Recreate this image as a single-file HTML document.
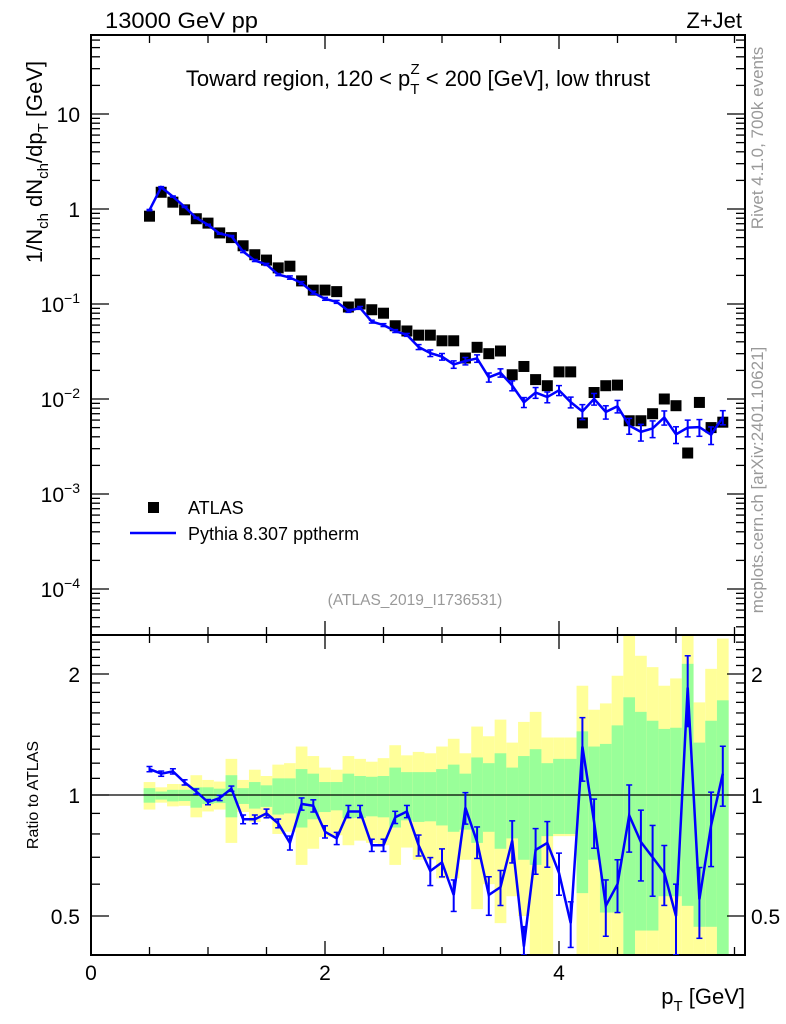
<!DOCTYPE html>
<html><head><meta charset="utf-8"><style>
html,body{margin:0;padding:0;background:#fff;}
svg{display:block;font-family:"Liberation Sans",sans-serif;}
</style></head><body>
<svg id="chart" width="786" height="1024" viewBox="0 0 786 1024"></svg>
<script>
const pt = [0.5,0.6,0.7,0.8,0.9,1.0,1.1,1.2,1.3,1.4,1.5,1.6,1.7,1.8,1.9,2.0,2.1,2.2,2.3,2.4,2.5,2.6,2.7,2.8,2.9,3.0,3.1,3.2,3.3,3.4,3.5,3.6,3.7,3.8,3.9,4.0,4.1,4.2,4.3,4.4,4.5,4.6,4.7,4.8,4.9,5.0,5.1,5.2,5.3,5.4];
const atlas = [0.84,1.5,1.18,0.98,0.79,0.71,0.56,0.5,0.41,0.33,0.29,0.24,0.25,0.175,0.14,0.14,0.135,0.093,0.1,0.087,0.08,0.059,0.052,0.047,0.047,0.041,0.041,0.027,0.035,0.030,0.032,0.018,0.022,0.016,0.0138,0.0193,0.0193,0.0056,0.0117,0.0138,0.014,0.0059,0.0059,0.0070,0.0100,0.0085,0.0027,0.0092,0.0050,0.0057];
const ratio = [1.16,1.13,1.145,1.075,1.02,0.96,0.983,1.037,0.87,0.87,0.90,0.85,0.76,0.95,0.94,0.81,0.78,0.91,0.91,0.75,0.75,0.88,0.91,0.75,0.647,0.68,0.564,0.93,0.764,0.564,0.59,0.77,0.42,0.73,0.76,0.64,0.48,1.32,0.857,0.53,0.60,0.89,0.764,0.70,0.64,0.50,1.85,0.55,0.84,1.13];
const relErr = [0.015,0.015,0.015,0.015,0.015,0.015,0.015,0.015,0.025,0.025,0.025,0.025,0.04,0.035,0.035,0.035,0.035,0.035,0.035,0.035,0.035,0.035,0.035,0.06,0.08,0.08,0.09,0.09,0.09,0.11,0.1,0.12,0.12,0.13,0.13,0.12,0.13,0.18,0.14,0.16,0.15,0.19,0.2,0.2,0.17,0.2,0.2,0.2,0.21,0.17];
const yelHi = [1.077,1.045,1.065,1.065,1.12,1.09,1.08,1.23,1.09,1.156,1.115,1.19,1.2,1.32,1.25,1.17,1.156,1.25,1.23,1.21,1.235,1.33,1.255,1.28,1.27,1.32,1.38,1.27,1.48,1.4,1.54,1.35,1.52,1.61,1.39,1.39,1.39,1.87,1.63,1.69,1.98,2.5,2.22,2.08,1.87,1.95,2.5,1.7,2.06,2.45];
const yelLo = [0.92,0.957,0.937,0.94,0.88,0.91,0.92,0.76,0.907,0.857,0.88,0.8,0.81,0.67,0.735,0.786,0.794,0.75,0.77,0.76,0.75,0.67,0.74,0.69,0.69,0.62,0.62,0.69,0.52,0.6,0.48,0.56,0.5,0.4,0.4,0.79,0.79,0.4,0.4,0.4,0.4,0.4,0.4,0.4,0.4,0.4,0.4,0.4,0.4,0.4];
const grnHi = [1.04,1.02,1.03,1.03,1.045,1.045,1.037,1.12,1.04,1.077,1.057,1.1,1.1,1.16,1.13,1.077,1.077,1.13,1.115,1.11,1.115,1.17,1.14,1.14,1.14,1.16,1.19,1.13,1.24,1.2,1.27,1.17,1.25,1.3,1.2,1.23,1.23,1.44,1.32,1.34,1.49,1.75,1.61,1.53,1.46,1.47,2.12,1.35,1.53,1.72];
const grnLo = [0.957,0.974,0.964,0.966,0.93,0.95,0.955,0.88,0.95,0.925,0.934,0.894,0.9,0.83,0.87,0.907,0.916,0.875,0.877,0.885,0.88,0.83,0.865,0.857,0.86,0.84,0.81,0.82,0.76,0.81,0.735,0.78,0.69,0.67,0.79,0.8,0.8,0.57,0.69,0.51,0.51,0.4,0.46,0.46,0.56,0.56,0.53,0.47,0.47,0.4];
const xTickLabels = ["0","2","4"];
const mainYLabels = ["10","1","10^-1","10^-2","10^-3","10^-4"];
const ratioYLabels = ["2","1","0.5"];

const NS="http://www.w3.org/2000/svg";
const svg=document.getElementById('chart');
const L=91,R=745,T=35,MB=635,RB=955;
const X=v=>L+v*117;
const Ym=v=>209-95*Math.log10(v);
const Yr=v=>795-121*Math.log2(v);
function el(tag,attrs,parent){const e=document.createElementNS(NS,tag);for(const k in attrs)e.setAttribute(k,attrs[k]);(parent||svg).appendChild(e);return e;}
function clampR(v){return Math.max(Math.min(Yr(v),RB),MB);}

const bands=el('g',{});


pt.forEach((p,i)=>{
  const x0=X(p-0.05),x1=X(p+0.05);
  const yy0=Math.max(Yr(yelHi[i]),636),yy1=Math.min(Yr(yelLo[i]),RB);
  const y=el('rect',{x:x0,y:yy0,width:x1-x0,height:Math.max(0,yy1-yy0),fill:'#ffff99'},bands);
  
  
  const g0=Math.max(Yr(grnHi[i]),636),g1=Math.min(Yr(grnLo[i]),RB);
  const g=el('rect',{x:x0,y:g0,width:x1-x0,height:Math.max(0,g1-g0),fill:'#99ff99'},bands);
  
  
});
el('line',{x1:L,x2:R,y1:Yr(1),y2:Yr(1),stroke:'#000','stroke-width':1.3});

const f1=el('rect',{x:L,y:T,width:R-L,height:MB-T,fill:'none',stroke:'#000','stroke-width':2});

const f2=el('rect',{x:L,y:MB,width:R-L,height:RB-MB,fill:'none',stroke:'#000','stroke-width':2});


for(let v=0;v<=5.5;v+=0.5){
  const x=X(v),big=(Math.abs(v-Math.round(v/2)*2)<1e-6);
  const len=big?14:8;
  [[T,1],[MB,-1],[MB,1],[RB,-1]].forEach(([y,d])=>el('line',{x1:x,x2:x,y1:y,y2:y+d*len,stroke:'#000','stroke-width':1.3}));
}
xTickLabels.forEach((t,i)=>{const e=el('text',{x:X(i*2),y:980,'font-size':21,'text-anchor':'middle'});e.textContent=t;
});

for(let d=-5;d<=1;d++){
  for(let m=1;m<10;m++){
    const v=m*Math.pow(10,d);const y=Ym(v);
    if(y<T||y>MB)continue;
    const len=m==1?18:9;
    el('line',{x1:L,x2:L+len,y1:y,y2:y,stroke:'#000','stroke-width':1.3});
    el('line',{x1:R,x2:R-len,y1:y,y2:y,stroke:'#000','stroke-width':1.3});
  }
}
mainYLabels.forEach((t,i)=>{
  const y=Ym(Math.pow(10,1-i))+8;
  const e=el('text',{x:80,y:y,'font-size':21,'text-anchor':'end'});
  
  if(t.includes('^')){const [b,p]=t.split('^');e.textContent=b;const s=el('tspan',{dy:-9,'font-size':14},e);s.textContent=p.replace('-','\u2212');}
  else e.textContent=t;
});
[0.4,0.5,0.6,0.7,0.8,0.9,1,1.1,1.2,1.3,1.4,1.5,1.6,1.7,1.8,1.9,2,2.1,2.2,2.3,2.4,2.5].forEach(v=>{
  const y=Yr(v);if(y<MB||y>RB)return;const len=(v==0.5||v==1||v==2)?18:9;
  el('line',{x1:L,x2:L+len,y1:y,y2:y,stroke:'#000','stroke-width':1.3});
  el('line',{x1:R,x2:R-len,y1:y,y2:y,stroke:'#000','stroke-width':1.3});
});
ratioYLabels.forEach(t=>{
  const y=Yr(parseFloat(t))+8;
  const a=el('text',{x:80,y:y,'font-size':21,'text-anchor':'end'});a.textContent=t;
  
  const b=el('text',{x:751,y:y,'font-size':21}); b.textContent=t;
  
});

pt.forEach((p,i)=>{
  const e=el('rect',{x:X(p)-5.5,y:Ym(atlas[i])-5.5,width:11,height:11,fill:'#000'});
  
});
const mc=atlas.map((a,i)=>a*ratio[i]);
const mline=el('polyline',{points:pt.map((p,i)=>X(p)+','+Ym(mc[i])).join(' '),fill:'none',stroke:'#0000ff','stroke-width':2.5});

pt.forEach((p,i)=>{
  const y0=Ym(mc[i]*(1+relErr[i])),y1=Ym(mc[i]*(1-relErr[i]));const x=X(p);
  el('line',{x1:x,x2:x,y1:y0,y2:y1,stroke:'#0000ff','stroke-width':2});
  el('line',{x1:x-3,x2:x+3,y1:y0,y2:y0,stroke:'#0000ff','stroke-width':1.5});
  el('line',{x1:x-3,x2:x+3,y1:y1,y2:y1,stroke:'#0000ff','stroke-width':1.5});
});
const rclip=el('clipPath',{id:'rclip'});
el('rect',{x:L,y:MB,width:R-L,height:RB-MB},rclip);
const rg=el('g',{'clip-path':'url(#rclip)'});


const rline=el('polyline',{points:pt.map((p,i)=>X(p)+','+Yr(ratio[i])).join(' '),fill:'none',stroke:'#0000ff','stroke-width':2.5},rg);

pt.forEach((p,i)=>{
  const y0=clampR(ratio[i]*(1+relErr[i])),y1=clampR(Math.max(0.01,ratio[i]*(1-relErr[i])));const x=X(p);
  el('line',{x1:x,x2:x,y1:y0,y2:y1,stroke:'#0000ff','stroke-width':2},rg);
  el('line',{x1:x-3,x2:x+3,y1:y0,y2:y0,stroke:'#0000ff','stroke-width':1.5},rg);
  el('line',{x1:x-3,x2:x+3,y1:y1,y2:y1,stroke:'#0000ff','stroke-width':1.5},rg);
});
</script>
<svg width="786" height="1024" style="position:absolute;left:0;top:0;pointer-events:none;font-family:'Liberation Sans',sans-serif">
<text x="105" y="28" font-size="22" textLength="153" lengthAdjust="spacingAndGlyphs">13000 GeV pp</text>
<text x="742" y="28" font-size="22" text-anchor="end">Z+Jet</text>
<text x="418" y="86" font-size="22" text-anchor="middle">Toward region, 120 &lt; p<tspan dy="8" font-size="15">T</tspan><tspan dx="-9" dy="-20" font-size="15">Z</tspan><tspan dy="12"> &lt; 200 [GeV], low thrust</tspan></text>
<text transform="translate(42,162) rotate(-90)" font-size="22" text-anchor="middle">1/N<tspan dy="6" font-size="15">ch</tspan><tspan dy="-6"> dN</tspan><tspan dy="6" font-size="15">ch</tspan><tspan dy="-6">/dp</tspan><tspan dy="6" font-size="15">T</tspan><tspan dy="-6"> [GeV]</tspan></text>
<text transform="translate(763,138) rotate(-90)" font-size="17" fill="#999" text-anchor="middle">Rivet 4.1.0,  700k events</text>
<text transform="translate(763,480) rotate(-90)" font-size="17" fill="#999" text-anchor="middle">mcplots.cern.ch [arXiv:2401.10621]</text>
<rect x="148" y="502" width="11" height="11" fill="#000"/>
<text x="188" y="514" font-size="18">ATLAS</text>
<line x1="130" x2="176" y1="533" y2="533" stroke="#0000ff" stroke-width="2.5"/>
<text x="188" y="540" font-size="18">Pythia 8.307 pptherm</text>
<text x="415" y="605" font-size="15.5" fill="#999" text-anchor="middle">(ATLAS_2019_I1736531)</text>
<text transform="translate(38,795) rotate(-90)" font-size="16" text-anchor="middle">Ratio to ATLAS</text>
<text x="745" y="1004" font-size="22" text-anchor="end">p<tspan dy="7" font-size="15">T</tspan><tspan dy="-7"> [GeV]</tspan></text>
</svg>
</body></html>
